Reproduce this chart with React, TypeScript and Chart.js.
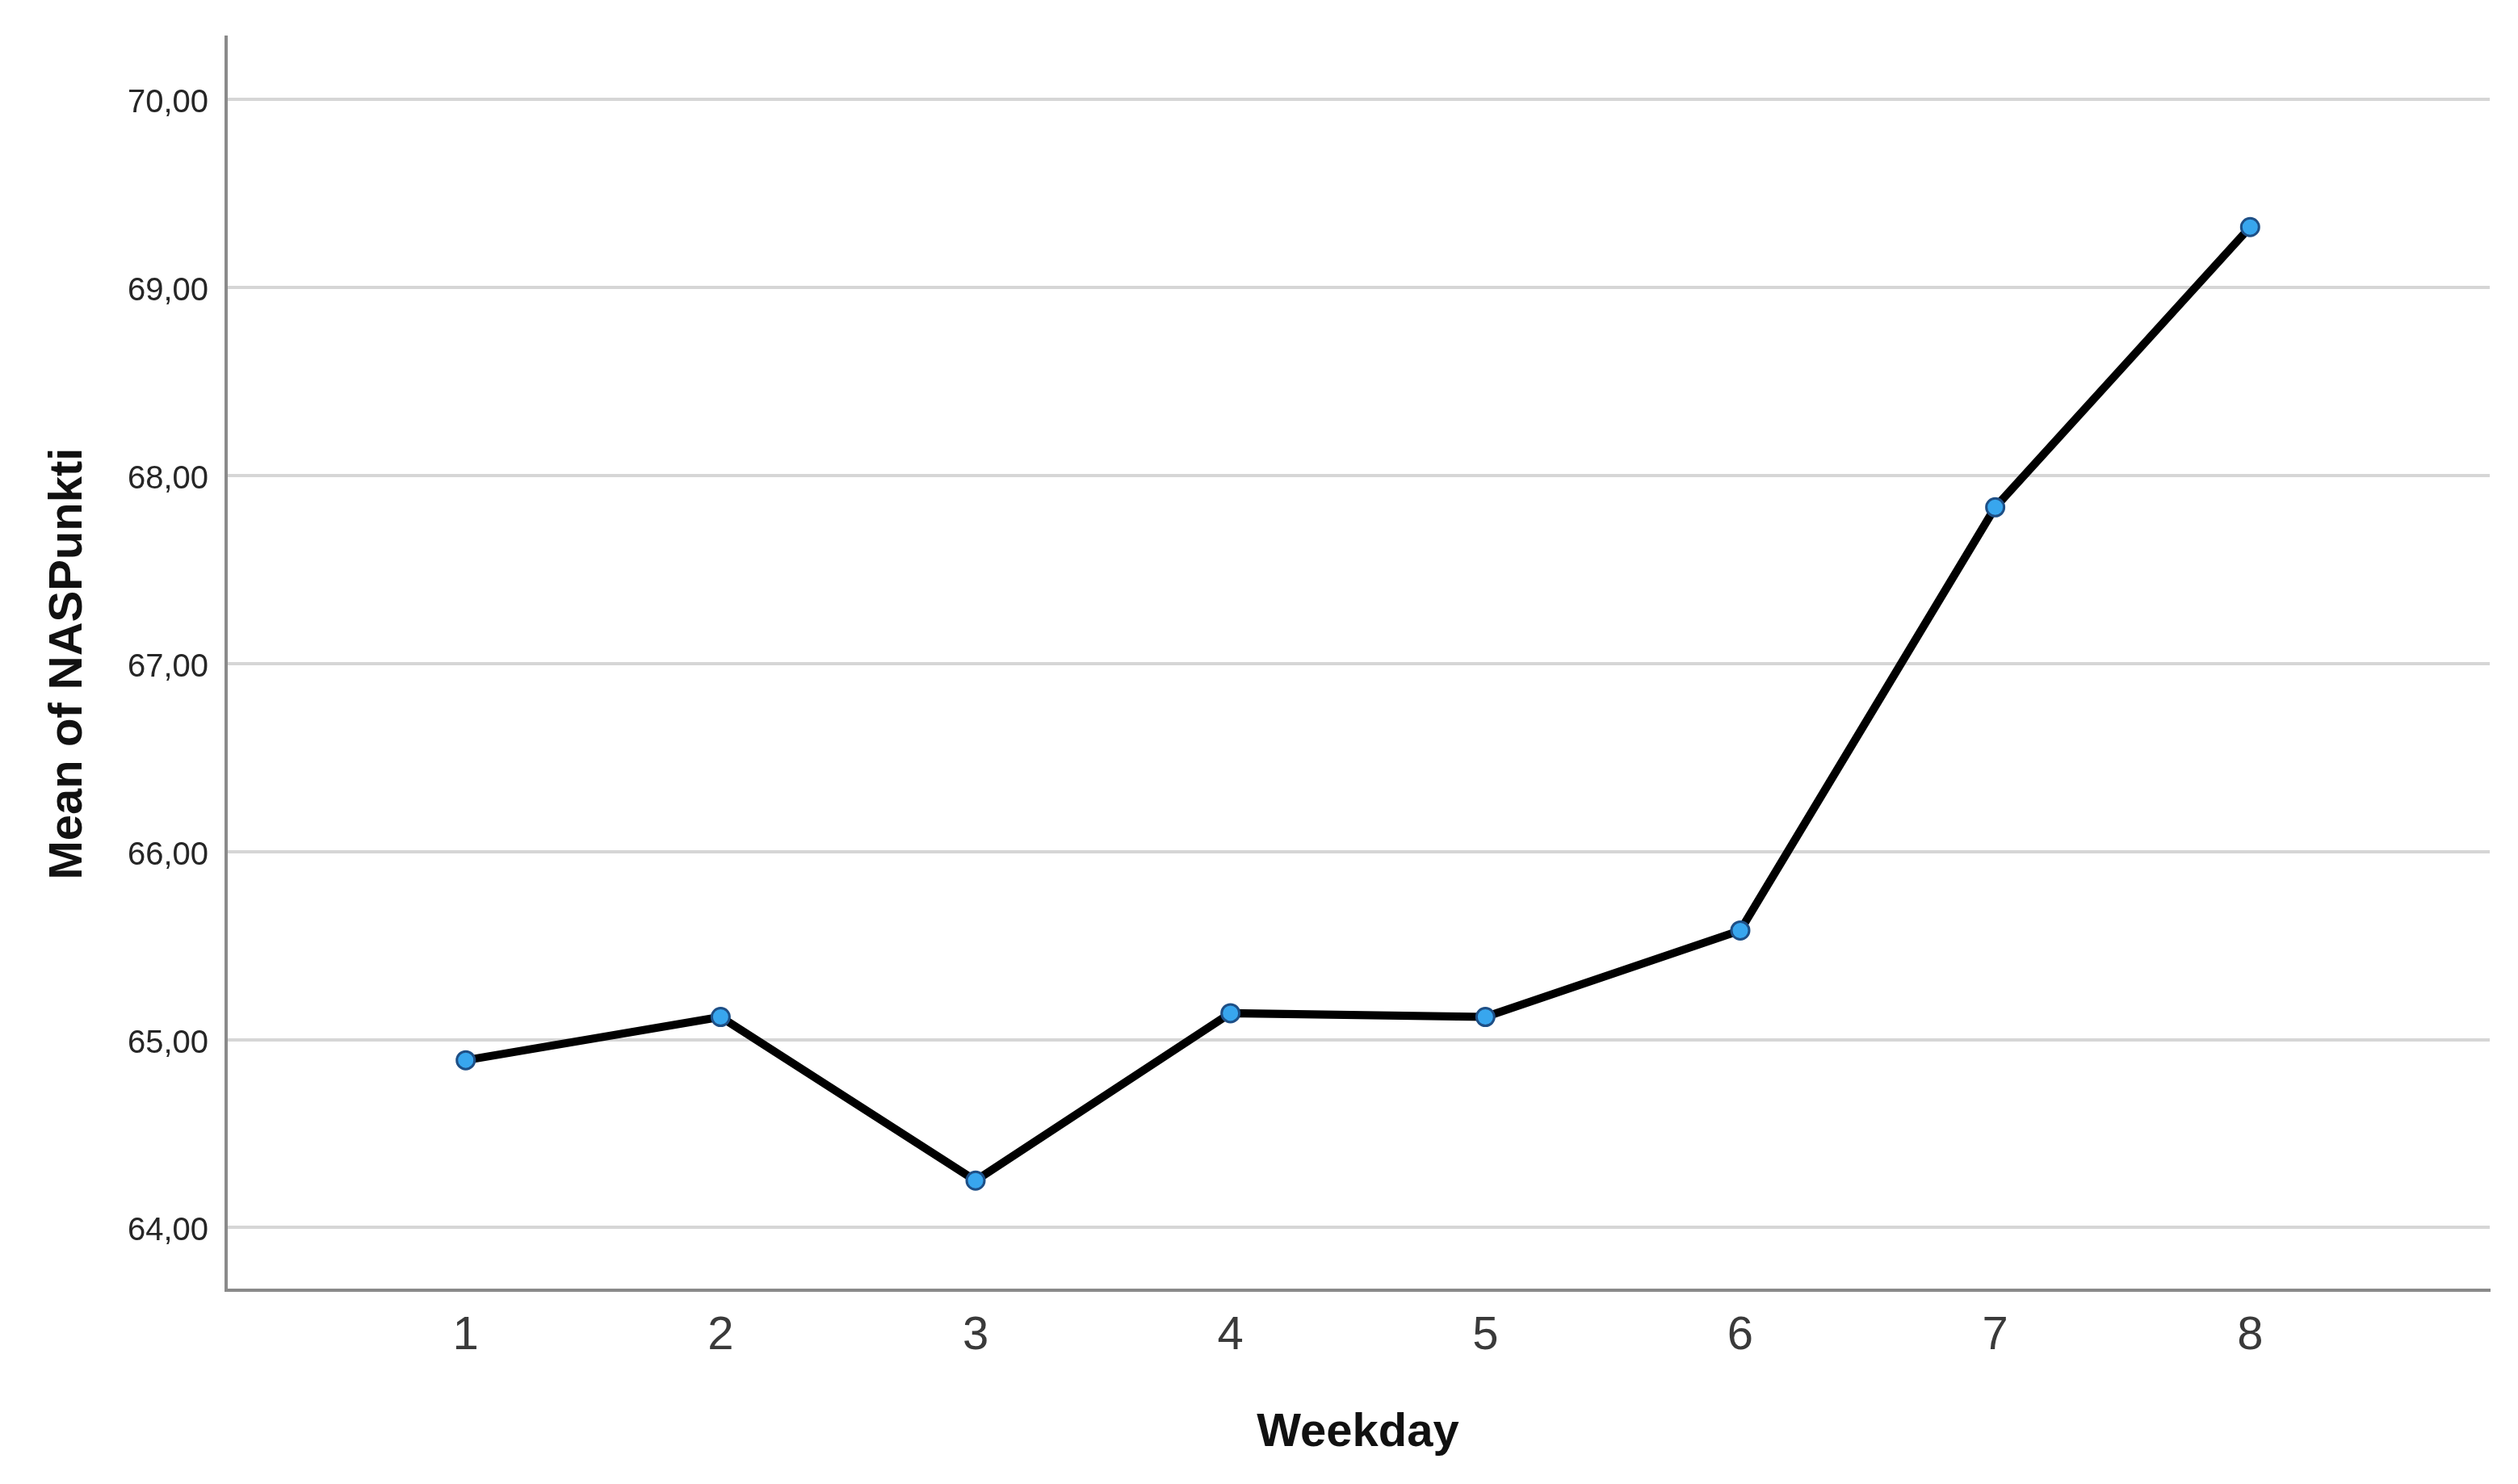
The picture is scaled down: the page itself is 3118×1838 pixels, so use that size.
import React, { useEffect, useRef } from "react";
import { Chart, registerables } from "chart.js";

Chart.register(...registerables);

const weekdays = [1, 2, 3, 4, 5, 6, 7, 8];
const meanNASPunkti = [64.89, 65.12, 64.25, 65.14, 65.12, 65.58, 67.83, 69.32];
const yTickValues = [64, 65, 66, 67, 68, 69, 70];
const xTitle = "Weekday";
const yTitle = "Mean of NASPunkti";

const W = 3118;
const H = 1838;
const FONT = "'Liberation Sans', Arial, Helvetica, sans-serif";

export default function App() {
  const ref = useRef<HTMLCanvasElement | null>(null);

  useEffect(() => {
    if (!ref.current) return;
    const chart = new Chart(ref.current, {
      type: "line",
      data: {
        datasets: [
          {
            label: yTitle,
            data: weekdays.map((d, i) => ({ x: d, y: meanNASPunkti[i] })),
            borderColor: "#000000",
            borderWidth: 10,
            pointRadius: 11,
            pointBackgroundColor: "#38a6ee",
            pointBorderColor: "#1e4f86",
            pointBorderWidth: 3,
            tension: 0,
            fill: false,
          },
        ],
      },
      options: {
        responsive: false,
        animation: false,
        devicePixelRatio: 1,
        layout: { padding: { top: 36, right: 35, left: 0, bottom: 0 } },
        plugins: {
          legend: { display: false },
          tooltip: { enabled: false },
          title: { display: false },
        },
        scales: {
          x: {
            type: "linear",
            min: 0.06,
            max: 8.94,
            afterFit: (s: any) => {
              s.height = 240;
            },
            ticks: {
              stepSize: 1,
              includeBounds: false,
              padding: 22,
              color: "#3a3a3a",
              font: { family: FONT, size: 58 },
              callback: (v: any) => String(v),
            },
            grid: { display: false, drawTicks: false },
            border: { display: true, color: "#8a8a8a", width: 4 },
            title: {
              display: true,
              text: xTitle,
              color: "#111111",
              font: { family: FONT, size: 58, weight: "bold" },
              padding: { top: 0, bottom: 28 },
            },
          },
          y: {
            type: "linear",
            min: 63.667,
            max: 70.33,
            afterFit: (s: any) => {
              s.width = 280;
            },
            afterBuildTicks: (s: any) => {
              s.ticks = yTickValues.map((v) => ({ value: v }));
            },
            ticks: {
              padding: 22,
              labelOffset: 5,
              color: "#262626",
              font: { family: FONT, size: 40 },
              callback: (v: any) => Number(v).toFixed(2).replace(".", ","),
            },
            grid: { display: true, color: "#d6d6d6", lineWidth: 4, drawTicks: false },
            border: { display: true, color: "#8a8a8a", width: 4 },
            title: {
              display: true,
              text: yTitle,
              color: "#111111",
              font: { family: FONT, size: 58, weight: "bold" },
              padding: { top: 50, bottom: 0 },
            },
          },
        },
      },
    });
    return () => chart.destroy();
  }, []);

  return (
    <div style={{ position: "fixed", left: 0, top: 0, width: W, height: H, background: "#ffffff" }}>
      <canvas ref={ref} width={W} height={H} style={{ width: W, height: H, display: "block" }} />
    </div>
  );
}
